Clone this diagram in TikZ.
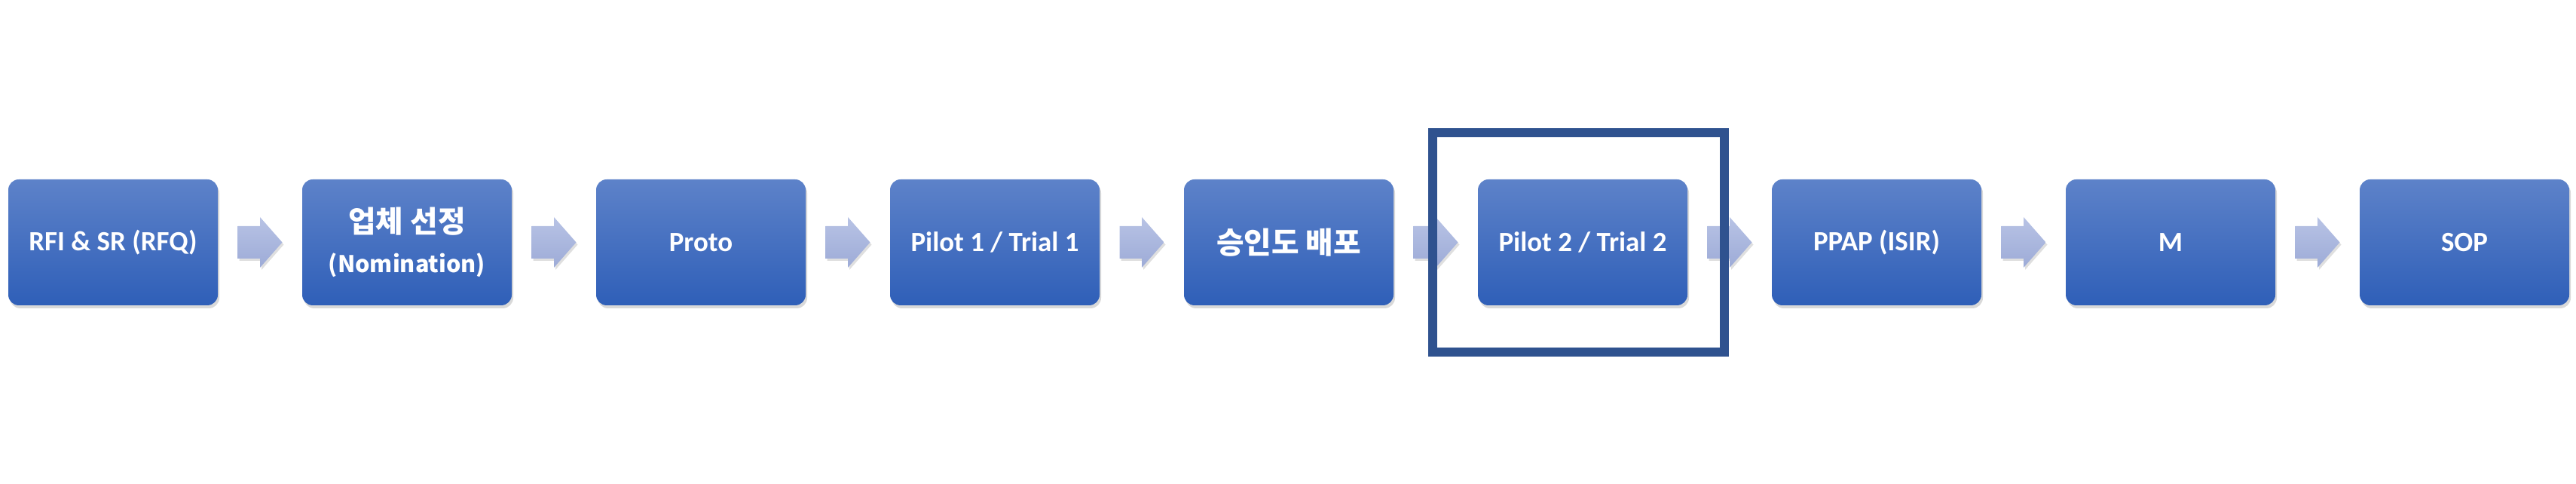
\documentclass[tikz,border=0pt]{standalone}
\usepackage{fontspec}
\setmainfont{Carlito}
\newfontfamily\krfont{Noto Sans CJK KR}
\usetikzlibrary{positioning, shadows, calc}

\definecolor{boxtop}{RGB}{93,130,201}
\definecolor{boxbot}{RGB}{47,95,184}
\definecolor{arrtop}{RGB}{184,195,229}
\definecolor{arrbot}{RGB}{157,171,215}
\definecolor{markblue}{RGB}{47,82,143}

\tikzset{
  stage/.style={rectangle, rounded corners=0.14cm, minimum width=2.78cm,
    minimum height=1.67cm, inner sep=0pt, outer sep=0pt,
    top color=boxtop, bottom color=boxbot, text=white, align=center,
    font=\bfseries\fontsize{10.5}{12}\selectfont,
    drop shadow={shadow xshift=0.02cm, shadow yshift=-0.04cm, opacity=0.3}},
  flowarrow/.style={top color=arrtop, bottom color=arrbot,
    drop shadow={shadow xshift=0.02cm, shadow yshift=-0.03cm, opacity=0.25}},
  kr/.style={font=\krfont\bfseries\fontsize{11.3}{13}\selectfont},
  markbox/.style={draw=markblue, line width=0.12cm}
}

\begin{document}
\begin{tikzpicture}
\useasboundingbox (0,0) rectangle (34.18,6.42);

% the nine stages
\node[stage] (b1) at (1.50,3.205) {RFI \& SR (RFQ)};
\node[stage, right=1.12cm of b1, kr] (b2) {업체 선정\\[2pt]{\fontsize{8.7}{11}\selectfont (Nomination)}};
\node[stage, right=1.12cm of b2] (b3) {Proto};
\node[stage, right=1.12cm of b3] (b4) {Pilot 1 / Trial 1};
\node[stage, right=1.12cm of b4, kr] (b5) {승인도 배포};
\node[stage, right=1.12cm of b5] (b6) {Pilot 2 / Trial 2};
\node[stage, right=1.12cm of b6] (b7) {PPAP (ISIR)};
\node[stage, right=1.12cm of b7] (b8) {M};
\node[stage, right=1.12cm of b8] (b9) {SOP};

% block arrows in the gaps
\foreach \i [evaluate=\i as \j using int(\i+1)] in {1,...,8}
\path[flowarrow, shift={($(b\i.east)!0.5!(b\j.west)$)}]
  (-0.295,0.215) -- (0,0.215) -- (0,0.335) -- (0.295,0)
  -- (0,-0.335) -- (0,-0.215) -- (-0.295,-0.215) -- cycle;

% frame round the current stage
\draw[markbox] ([shift={(-1.99,-1.455)}]b6.center) rectangle ([shift={(1.88,1.455)}]b6.center);

\end{tikzpicture}
\end{document}
